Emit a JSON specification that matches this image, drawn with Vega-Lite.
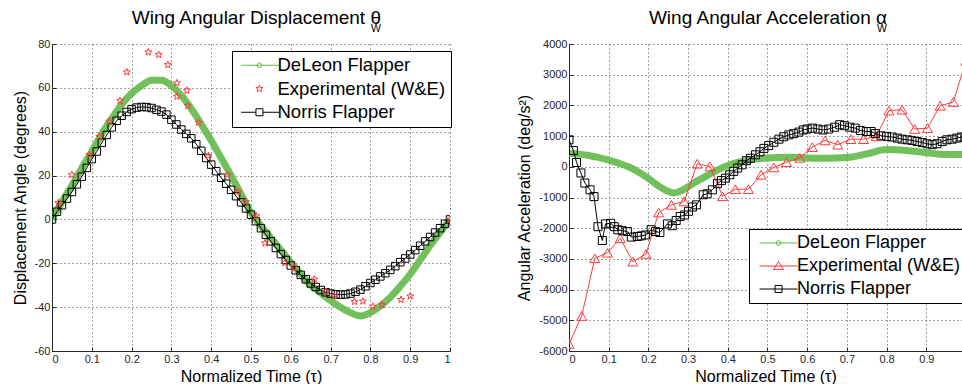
{
  "$schema": "https://vega.github.io/schema/vega-lite/v6.json",
  "background": "white",
  "padding": {"left": 12, "top": 8, "right": 0, "bottom": 0},
  "spacing": 64,
  "config": {
    "font": "Liberation Sans",
    "view": {"stroke": null},
    "locale": {"number": {"decimal": ".", "thousands": ",", "grouping": [3], "currency": ["$", ""], "minus": "-"}},
    "axis": {
      "domainColor": "#262626", "labelColor": "#262626", "labelFontSize": 11, "labelFont": "Liberation Sans",
      "titleFontSize": 16, "titleFontWeight": "normal", "titleColor": "#000", "titleFont": "Liberation Sans",
      "gridColor": "#333", "gridDash": [1, 3], "gridOpacity": 0.9,
      "tickColor": "#262626", "tickSize": -4, "labelPadding": 6
    },
    "title": {"fontWeight": "normal", "fontSize": 19, "font": "Liberation Sans", "color": "#000",
      "subtitleFontSize": 10.5, "subtitleFont": "Liberation Sans", "subtitleColor": "#000", "subtitlePadding": -4, "offset": 4}
  },
  "resolve": {"scale": {"color": "independent"}, "legend": {"color": "independent"}},
  "datasets": {
    "disp": [
      {"series": "DeLeon Flapper", "t": 0, "v": 0},
      {"series": "DeLeon Flapper", "t": 0.025, "v": 8},
      {"series": "DeLeon Flapper", "t": 0.05, "v": 15.5},
      {"series": "DeLeon Flapper", "t": 0.075, "v": 23.5},
      {"series": "DeLeon Flapper", "t": 0.1, "v": 31},
      {"series": "DeLeon Flapper", "t": 0.125, "v": 39},
      {"series": "DeLeon Flapper", "t": 0.15, "v": 46},
      {"series": "DeLeon Flapper", "t": 0.175, "v": 52.5},
      {"series": "DeLeon Flapper", "t": 0.2, "v": 57.5},
      {"series": "DeLeon Flapper", "t": 0.225, "v": 61},
      {"series": "DeLeon Flapper", "t": 0.25, "v": 63.5},
      {"series": "DeLeon Flapper", "t": 0.275, "v": 63.5},
      {"series": "DeLeon Flapper", "t": 0.3, "v": 61},
      {"series": "DeLeon Flapper", "t": 0.325, "v": 56.5},
      {"series": "DeLeon Flapper", "t": 0.35, "v": 50.5},
      {"series": "DeLeon Flapper", "t": 0.375, "v": 43.5},
      {"series": "DeLeon Flapper", "t": 0.4, "v": 36},
      {"series": "DeLeon Flapper", "t": 0.425, "v": 28},
      {"series": "DeLeon Flapper", "t": 0.45, "v": 20},
      {"series": "DeLeon Flapper", "t": 0.475, "v": 11.5},
      {"series": "DeLeon Flapper", "t": 0.5, "v": 3},
      {"series": "DeLeon Flapper", "t": 0.525, "v": -3},
      {"series": "DeLeon Flapper", "t": 0.55, "v": -8.5},
      {"series": "DeLeon Flapper", "t": 0.575, "v": -14},
      {"series": "DeLeon Flapper", "t": 0.6, "v": -19.5},
      {"series": "DeLeon Flapper", "t": 0.625, "v": -25},
      {"series": "DeLeon Flapper", "t": 0.65, "v": -30},
      {"series": "DeLeon Flapper", "t": 0.675, "v": -33.5},
      {"series": "DeLeon Flapper", "t": 0.7, "v": -37},
      {"series": "DeLeon Flapper", "t": 0.725, "v": -40},
      {"series": "DeLeon Flapper", "t": 0.75, "v": -42.5},
      {"series": "DeLeon Flapper", "t": 0.775, "v": -44},
      {"series": "DeLeon Flapper", "t": 0.8, "v": -42.5},
      {"series": "DeLeon Flapper", "t": 0.825, "v": -39.5},
      {"series": "DeLeon Flapper", "t": 0.85, "v": -35.5},
      {"series": "DeLeon Flapper", "t": 0.875, "v": -30.5},
      {"series": "DeLeon Flapper", "t": 0.9, "v": -25},
      {"series": "DeLeon Flapper", "t": 0.925, "v": -18.5},
      {"series": "DeLeon Flapper", "t": 0.95, "v": -12},
      {"series": "DeLeon Flapper", "t": 0.975, "v": -6},
      {"series": "DeLeon Flapper", "t": 1, "v": 0},

      {"series": "Norris Flapper", "t": 0, "v": 0},
      {"series": "Norris Flapper", "t": 0.0125, "v": 3.5},
      {"series": "Norris Flapper", "t": 0.025, "v": 6.5},
      {"series": "Norris Flapper", "t": 0.0375, "v": 9.5},
      {"series": "Norris Flapper", "t": 0.05, "v": 12.5},
      {"series": "Norris Flapper", "t": 0.0625, "v": 16},
      {"series": "Norris Flapper", "t": 0.075, "v": 19.5},
      {"series": "Norris Flapper", "t": 0.0875, "v": 23.5},
      {"series": "Norris Flapper", "t": 0.1, "v": 27.5},
      {"series": "Norris Flapper", "t": 0.1125, "v": 31},
      {"series": "Norris Flapper", "t": 0.125, "v": 35},
      {"series": "Norris Flapper", "t": 0.1375, "v": 38.5},
      {"series": "Norris Flapper", "t": 0.15, "v": 42},
      {"series": "Norris Flapper", "t": 0.1625, "v": 45},
      {"series": "Norris Flapper", "t": 0.175, "v": 47.3},
      {"series": "Norris Flapper", "t": 0.1875, "v": 49},
      {"series": "Norris Flapper", "t": 0.2, "v": 50.3},
      {"series": "Norris Flapper", "t": 0.2125, "v": 51},
      {"series": "Norris Flapper", "t": 0.225, "v": 51.3},
      {"series": "Norris Flapper", "t": 0.2375, "v": 51.2},
      {"series": "Norris Flapper", "t": 0.25, "v": 50.8},
      {"series": "Norris Flapper", "t": 0.2625, "v": 50},
      {"series": "Norris Flapper", "t": 0.275, "v": 49.2},
      {"series": "Norris Flapper", "t": 0.2875, "v": 47.8},
      {"series": "Norris Flapper", "t": 0.3, "v": 45.5},
      {"series": "Norris Flapper", "t": 0.3125, "v": 43.3},
      {"series": "Norris Flapper", "t": 0.325, "v": 41},
      {"series": "Norris Flapper", "t": 0.3375, "v": 39},
      {"series": "Norris Flapper", "t": 0.35, "v": 37},
      {"series": "Norris Flapper", "t": 0.3625, "v": 34.3},
      {"series": "Norris Flapper", "t": 0.375, "v": 31.3},
      {"series": "Norris Flapper", "t": 0.3875, "v": 28},
      {"series": "Norris Flapper", "t": 0.4, "v": 25},
      {"series": "Norris Flapper", "t": 0.4125, "v": 22},
      {"series": "Norris Flapper", "t": 0.425, "v": 19},
      {"series": "Norris Flapper", "t": 0.4375, "v": 16.3},
      {"series": "Norris Flapper", "t": 0.45, "v": 13.5},
      {"series": "Norris Flapper", "t": 0.4625, "v": 10.6},
      {"series": "Norris Flapper", "t": 0.475, "v": 7.8},
      {"series": "Norris Flapper", "t": 0.4875, "v": 5},
      {"series": "Norris Flapper", "t": 0.5, "v": 2.2},
      {"series": "Norris Flapper", "t": 0.5125, "v": -0.8},
      {"series": "Norris Flapper", "t": 0.525, "v": -4},
      {"series": "Norris Flapper", "t": 0.5375, "v": -7},
      {"series": "Norris Flapper", "t": 0.55, "v": -10},
      {"series": "Norris Flapper", "t": 0.5625, "v": -13},
      {"series": "Norris Flapper", "t": 0.575, "v": -15.8},
      {"series": "Norris Flapper", "t": 0.5875, "v": -18.5},
      {"series": "Norris Flapper", "t": 0.6, "v": -21},
      {"series": "Norris Flapper", "t": 0.6125, "v": -23.2},
      {"series": "Norris Flapper", "t": 0.625, "v": -25.3},
      {"series": "Norris Flapper", "t": 0.6375, "v": -27.3},
      {"series": "Norris Flapper", "t": 0.65, "v": -29.2},
      {"series": "Norris Flapper", "t": 0.6625, "v": -30.8},
      {"series": "Norris Flapper", "t": 0.675, "v": -32.2},
      {"series": "Norris Flapper", "t": 0.6875, "v": -33.2},
      {"series": "Norris Flapper", "t": 0.7, "v": -33.8},
      {"series": "Norris Flapper", "t": 0.7125, "v": -34.2},
      {"series": "Norris Flapper", "t": 0.725, "v": -34.3},
      {"series": "Norris Flapper", "t": 0.7375, "v": -34.2},
      {"series": "Norris Flapper", "t": 0.75, "v": -33.8},
      {"series": "Norris Flapper", "t": 0.7625, "v": -33},
      {"series": "Norris Flapper", "t": 0.775, "v": -32},
      {"series": "Norris Flapper", "t": 0.7875, "v": -30.5},
      {"series": "Norris Flapper", "t": 0.8, "v": -29},
      {"series": "Norris Flapper", "t": 0.8125, "v": -27.5},
      {"series": "Norris Flapper", "t": 0.825, "v": -26},
      {"series": "Norris Flapper", "t": 0.8375, "v": -24.5},
      {"series": "Norris Flapper", "t": 0.85, "v": -23},
      {"series": "Norris Flapper", "t": 0.8625, "v": -21.3},
      {"series": "Norris Flapper", "t": 0.875, "v": -19.5},
      {"series": "Norris Flapper", "t": 0.8875, "v": -17.8},
      {"series": "Norris Flapper", "t": 0.9, "v": -16},
      {"series": "Norris Flapper", "t": 0.9125, "v": -14},
      {"series": "Norris Flapper", "t": 0.925, "v": -12},
      {"series": "Norris Flapper", "t": 0.9375, "v": -10},
      {"series": "Norris Flapper", "t": 0.95, "v": -8},
      {"series": "Norris Flapper", "t": 0.9625, "v": -6},
      {"series": "Norris Flapper", "t": 0.975, "v": -4},
      {"series": "Norris Flapper", "t": 0.9875, "v": -2},
      {"series": "Norris Flapper", "t": 1, "v": 0},

      {"series": "Experimental (W&E)", "t": 0.016, "v": 7.5},
      {"series": "Experimental (W&E)", "t": 0.05, "v": 20.3},
      {"series": "Experimental (W&E)", "t": 0.094, "v": 29.5},
      {"series": "Experimental (W&E)", "t": 0.119, "v": 37.8},
      {"series": "Experimental (W&E)", "t": 0.144, "v": 44.7},
      {"series": "Experimental (W&E)", "t": 0.171, "v": 54.1},
      {"series": "Experimental (W&E)", "t": 0.188, "v": 67.2},
      {"series": "Experimental (W&E)", "t": 0.242, "v": 76.3},
      {"series": "Experimental (W&E)", "t": 0.268, "v": 75.1},
      {"series": "Experimental (W&E)", "t": 0.291, "v": 70.5},
      {"series": "Experimental (W&E)", "t": 0.314, "v": 62.2},
      {"series": "Experimental (W&E)", "t": 0.339, "v": 58.8},
      {"series": "Experimental (W&E)", "t": 0.314, "v": 56.1},
      {"series": "Experimental (W&E)", "t": 0.341, "v": 51.8},
      {"series": "Experimental (W&E)", "t": 0.368, "v": 44.2},
      {"series": "Experimental (W&E)", "t": 0.393, "v": 29},
      {"series": "Experimental (W&E)", "t": 0.441, "v": 20.3},
      {"series": "Experimental (W&E)", "t": 0.467, "v": 12.7},
      {"series": "Experimental (W&E)", "t": 0.487, "v": 8.1},
      {"series": "Experimental (W&E)", "t": 0.513, "v": 1.6},
      {"series": "Experimental (W&E)", "t": 0.535, "v": -10.8},
      {"series": "Experimental (W&E)", "t": 0.585, "v": -19.8},
      {"series": "Experimental (W&E)", "t": 0.608, "v": -21.8},
      {"series": "Experimental (W&E)", "t": 0.659, "v": -27.3},
      {"series": "Experimental (W&E)", "t": 0.688, "v": -33},
      {"series": "Experimental (W&E)", "t": 0.709, "v": -34.9},
      {"series": "Experimental (W&E)", "t": 0.76, "v": -37.5},
      {"series": "Experimental (W&E)", "t": 0.781, "v": -37.3},
      {"series": "Experimental (W&E)", "t": 0.806, "v": -39.7},
      {"series": "Experimental (W&E)", "t": 0.829, "v": -39},
      {"series": "Experimental (W&E)", "t": 0.877, "v": -36.6},
      {"series": "Experimental (W&E)", "t": 0.9, "v": -35},
      {"series": "Experimental (W&E)", "t": 1, "v": 0}
    ],
    "acc": [
      {"series": "DeLeon Flapper", "t": 0, "v": 440},
      {"series": "DeLeon Flapper", "t": 0.025, "v": 410},
      {"series": "DeLeon Flapper", "t": 0.05, "v": 370},
      {"series": "DeLeon Flapper", "t": 0.075, "v": 300},
      {"series": "DeLeon Flapper", "t": 0.1, "v": 220},
      {"series": "DeLeon Flapper", "t": 0.125, "v": 120},
      {"series": "DeLeon Flapper", "t": 0.15, "v": 0},
      {"series": "DeLeon Flapper", "t": 0.175, "v": -170},
      {"series": "DeLeon Flapper", "t": 0.2, "v": -380},
      {"series": "DeLeon Flapper", "t": 0.225, "v": -620},
      {"series": "DeLeon Flapper", "t": 0.25, "v": -800},
      {"series": "DeLeon Flapper", "t": 0.265, "v": -850},
      {"series": "DeLeon Flapper", "t": 0.28, "v": -800},
      {"series": "DeLeon Flapper", "t": 0.3, "v": -650},
      {"series": "DeLeon Flapper", "t": 0.325, "v": -450},
      {"series": "DeLeon Flapper", "t": 0.35, "v": -270},
      {"series": "DeLeon Flapper", "t": 0.375, "v": -100},
      {"series": "DeLeon Flapper", "t": 0.4, "v": 40},
      {"series": "DeLeon Flapper", "t": 0.425, "v": 140},
      {"series": "DeLeon Flapper", "t": 0.45, "v": 210},
      {"series": "DeLeon Flapper", "t": 0.5, "v": 290},
      {"series": "DeLeon Flapper", "t": 0.55, "v": 310},
      {"series": "DeLeon Flapper", "t": 0.6, "v": 290},
      {"series": "DeLeon Flapper", "t": 0.65, "v": 280},
      {"series": "DeLeon Flapper", "t": 0.7, "v": 300},
      {"series": "DeLeon Flapper", "t": 0.75, "v": 420},
      {"series": "DeLeon Flapper", "t": 0.8, "v": 560},
      {"series": "DeLeon Flapper", "t": 0.85, "v": 530},
      {"series": "DeLeon Flapper", "t": 0.9, "v": 460},
      {"series": "DeLeon Flapper", "t": 0.95, "v": 400},
      {"series": "DeLeon Flapper", "t": 1, "v": 400},

      {"series": "Experimental (W&E)", "t": 0, "v": -5770},
      {"series": "Experimental (W&E)", "t": 0.032, "v": -4860},
      {"series": "Experimental (W&E)", "t": 0.065, "v": -2980},
      {"series": "Experimental (W&E)", "t": 0.097, "v": -2800},
      {"series": "Experimental (W&E)", "t": 0.129, "v": -2330},
      {"series": "Experimental (W&E)", "t": 0.161, "v": -3090},
      {"series": "Experimental (W&E)", "t": 0.194, "v": -2840},
      {"series": "Experimental (W&E)", "t": 0.226, "v": -1490},
      {"series": "Experimental (W&E)", "t": 0.258, "v": -1240},
      {"series": "Experimental (W&E)", "t": 0.29, "v": -1130},
      {"series": "Experimental (W&E)", "t": 0.323, "v": 100},
      {"series": "Experimental (W&E)", "t": 0.355, "v": 10},
      {"series": "Experimental (W&E)", "t": 0.387, "v": -960},
      {"series": "Experimental (W&E)", "t": 0.419, "v": -730},
      {"series": "Experimental (W&E)", "t": 0.452, "v": -730},
      {"series": "Experimental (W&E)", "t": 0.484, "v": -260},
      {"series": "Experimental (W&E)", "t": 0.516, "v": -20},
      {"series": "Experimental (W&E)", "t": 0.548, "v": 150},
      {"series": "Experimental (W&E)", "t": 0.581, "v": 290},
      {"series": "Experimental (W&E)", "t": 0.613, "v": 640},
      {"series": "Experimental (W&E)", "t": 0.645, "v": 860},
      {"series": "Experimental (W&E)", "t": 0.677, "v": 720},
      {"series": "Experimental (W&E)", "t": 0.71, "v": 900},
      {"series": "Experimental (W&E)", "t": 0.742, "v": 900},
      {"series": "Experimental (W&E)", "t": 0.774, "v": 990},
      {"series": "Experimental (W&E)", "t": 0.806, "v": 1830},
      {"series": "Experimental (W&E)", "t": 0.839, "v": 1860},
      {"series": "Experimental (W&E)", "t": 0.871, "v": 1230},
      {"series": "Experimental (W&E)", "t": 0.903, "v": 1260},
      {"series": "Experimental (W&E)", "t": 0.935, "v": 1990},
      {"series": "Experimental (W&E)", "t": 0.968, "v": 2110},
      {"series": "Experimental (W&E)", "t": 1, "v": 3450},

      {"series": "Norris Flapper", "t": 0, "v": 880},
      {"series": "Norris Flapper", "t": 0.011, "v": 530},
      {"series": "Norris Flapper", "t": 0.019, "v": 140},
      {"series": "Norris Flapper", "t": 0.03, "v": -200},
      {"series": "Norris Flapper", "t": 0.04, "v": -530},
      {"series": "Norris Flapper", "t": 0.053, "v": -750},
      {"series": "Norris Flapper", "t": 0.063, "v": -970},
      {"series": "Norris Flapper", "t": 0.073, "v": -1950},
      {"series": "Norris Flapper", "t": 0.084, "v": -2400},
      {"series": "Norris Flapper", "t": 0.092, "v": -1860},
      {"series": "Norris Flapper", "t": 0.105, "v": -1840},
      {"series": "Norris Flapper", "t": 0.114, "v": -1950},
      {"series": "Norris Flapper", "t": 0.123, "v": -2050},
      {"series": "Norris Flapper", "t": 0.134, "v": -2080},
      {"series": "Norris Flapper", "t": 0.147, "v": -2110},
      {"series": "Norris Flapper", "t": 0.157, "v": -2290},
      {"series": "Norris Flapper", "t": 0.172, "v": -2270},
      {"series": "Norris Flapper", "t": 0.182, "v": -2250},
      {"series": "Norris Flapper", "t": 0.193, "v": -2220},
      {"series": "Norris Flapper", "t": 0.207, "v": -2050},
      {"series": "Norris Flapper", "t": 0.218, "v": -2110},
      {"series": "Norris Flapper", "t": 0.229, "v": -2140},
      {"series": "Norris Flapper", "t": 0.248, "v": -1860},
      {"series": "Norris Flapper", "t": 0.26, "v": -1920},
      {"series": "Norris Flapper", "t": 0.27, "v": -1750},
      {"series": "Norris Flapper", "t": 0.28, "v": -1620},
      {"series": "Norris Flapper", "t": 0.291, "v": -1570},
      {"series": "Norris Flapper", "t": 0.301, "v": -1450},
      {"series": "Norris Flapper", "t": 0.311, "v": -1310},
      {"series": "Norris Flapper", "t": 0.321, "v": -1240},
      {"series": "Norris Flapper", "t": 0.338, "v": -910},
      {"series": "Norris Flapper", "t": 0.348, "v": -880},
      {"series": "Norris Flapper", "t": 0.361, "v": -750},
      {"series": "Norris Flapper", "t": 0.374, "v": -550},
      {"series": "Norris Flapper", "t": 0.384, "v": -450},
      {"series": "Norris Flapper", "t": 0.394, "v": -370},
      {"series": "Norris Flapper", "t": 0.405, "v": -260},
      {"series": "Norris Flapper", "t": 0.415, "v": -150},
      {"series": "Norris Flapper", "t": 0.425, "v": -40},
      {"series": "Norris Flapper", "t": 0.436, "v": 65},
      {"series": "Norris Flapper", "t": 0.447, "v": 200},
      {"series": "Norris Flapper", "t": 0.457, "v": 280},
      {"series": "Norris Flapper", "t": 0.47, "v": 390},
      {"series": "Norris Flapper", "t": 0.481, "v": 490},
      {"series": "Norris Flapper", "t": 0.491, "v": 600},
      {"series": "Norris Flapper", "t": 0.503, "v": 690},
      {"series": "Norris Flapper", "t": 0.516, "v": 800},
      {"series": "Norris Flapper", "t": 0.529, "v": 900},
      {"series": "Norris Flapper", "t": 0.541, "v": 980},
      {"series": "Norris Flapper", "t": 0.554, "v": 1040},
      {"series": "Norris Flapper", "t": 0.566, "v": 1080},
      {"series": "Norris Flapper", "t": 0.579, "v": 1130},
      {"series": "Norris Flapper", "t": 0.59, "v": 1200},
      {"series": "Norris Flapper", "t": 0.6, "v": 1230},
      {"series": "Norris Flapper", "t": 0.613, "v": 1260},
      {"series": "Norris Flapper", "t": 0.627, "v": 1230},
      {"series": "Norris Flapper", "t": 0.64, "v": 1200},
      {"series": "Norris Flapper", "t": 0.654, "v": 1230},
      {"series": "Norris Flapper", "t": 0.669, "v": 1290},
      {"series": "Norris Flapper", "t": 0.682, "v": 1370},
      {"series": "Norris Flapper", "t": 0.694, "v": 1340},
      {"series": "Norris Flapper", "t": 0.707, "v": 1290},
      {"series": "Norris Flapper", "t": 0.721, "v": 1260},
      {"series": "Norris Flapper", "t": 0.734, "v": 1185},
      {"series": "Norris Flapper", "t": 0.749, "v": 1150},
      {"series": "Norris Flapper", "t": 0.761, "v": 1150},
      {"series": "Norris Flapper", "t": 0.772, "v": 1080},
      {"series": "Norris Flapper", "t": 0.786, "v": 1010},
      {"series": "Norris Flapper", "t": 0.8, "v": 990},
      {"series": "Norris Flapper", "t": 0.814, "v": 970},
      {"series": "Norris Flapper", "t": 0.827, "v": 935},
      {"series": "Norris Flapper", "t": 0.839, "v": 900},
      {"series": "Norris Flapper", "t": 0.852, "v": 880},
      {"series": "Norris Flapper", "t": 0.864, "v": 860},
      {"series": "Norris Flapper", "t": 0.877, "v": 825},
      {"series": "Norris Flapper", "t": 0.89, "v": 790},
      {"series": "Norris Flapper", "t": 0.902, "v": 750},
      {"series": "Norris Flapper", "t": 0.915, "v": 720},
      {"series": "Norris Flapper", "t": 0.927, "v": 750},
      {"series": "Norris Flapper", "t": 0.94, "v": 825},
      {"series": "Norris Flapper", "t": 0.952, "v": 880},
      {"series": "Norris Flapper", "t": 0.965, "v": 900},
      {"series": "Norris Flapper", "t": 0.977, "v": 935},
      {"series": "Norris Flapper", "t": 0.988, "v": 970},
      {"series": "Norris Flapper", "t": 1, "v": 990}
    ]
  },
  "hconcat": [
    {
      "width": 398,
      "height": 307,
      "title": {"text": "Wing Angular Displacement θ\u00a0\u00a0\u00a0", "subtitle": "W", "anchor": "end", "frame": "group", "dx": -69},
      "data": {"name": "disp"},
      "encoding": {
        "x": {"field": "t", "type": "quantitative", "scale": {"domain": [0, 1], "nice": false},
          "axis": {"values": [0, 0.1, 0.2, 0.3, 0.4, 0.5, 0.6, 0.7, 0.8, 0.9, 1], "format": "~g", "title": "Normalized Time (τ)", "grid": true}},
        "y": {"field": "v", "type": "quantitative", "scale": {"domain": [-60, 80], "nice": false},
          "axis": {"values": [-60, -40, -20, 0, 20, 40, 60, 80], "format": "d", "title": "Displacement Angle (degrees)", "grid": true, "titlePadding": 6}},
        "color": {"field": "series", "type": "nominal",
          "scale": {"domain": ["DeLeon Flapper", "Experimental (W&E)", "Norris Flapper"], "range": ["#62b94a", "#ff3b3b", "#000000"]},
          "legend": {
            "title": null, "orient": "none", "legendX": 180, "legendY": 7,
            "labelFontSize": 18.5, "labelColor": "#000", "labelFont": "Liberation Sans", "labelLimit": 300,
            "symbolSize": 100, "labelOffset": 22, "rowPadding": 4.5, "padding": 5,
            "strokeColor": "#000", "fillColor": "#fff",
            "encode": {"symbols": {"update": {
              "shape": {"signal": "datum.value === 'DeLeon Flapper' ? 'M-1.02,0H6.64M3.14,0L2.99,0.35L2.64,0.5L2.29,0.35L2.14,0L2.29,-0.35L2.64,-0.5L2.99,-0.35Z' : datum.value === 'Norris Flapper' ? 'M-1.02,0H1.94M3.34,0H6.64M1.94,-0.7H3.34V0.7H1.94Z' : 'M2.64,-0.75L2.816,-0.243L3.353,-0.232L2.925,0.093L3.081,0.607L2.64,0.3L2.199,0.607L2.355,0.093L1.927,-0.232L2.464,-0.243Z'"},
              "stroke": {"signal": "datum.value === 'DeLeon Flapper' ? '#62b94a' : datum.value === 'Norris Flapper' ? '#000000' : '#ff3b3b'"},
              "fill": {"value": "transparent"},
              "strokeWidth": {"value": 1},
              "opacity": {"value": 1},
              "size": {"value": 100}
            }}}
          }}
      },
      "layer": [
        {"transform": [{"filter": "datum.series === 'DeLeon Flapper'"}],
         "mark": {"type": "line", "strokeWidth": 7, "interpolate": "monotone", "clip": true, "opacity": 0.9}},
        {"transform": [{"filter": "datum.series === 'Norris Flapper'"}],
         "mark": {"type": "line", "strokeWidth": 1, "clip": true}},
        {"transform": [{"filter": "datum.series === 'Norris Flapper'"}],
         "mark": {"type": "point", "shape": "square", "size": 56, "filled": false, "strokeWidth": 1, "opacity": 1, "clip": true}},
        {"transform": [{"filter": "datum.series === 'Experimental (W&E)'"}],
         "mark": {"type": "point", "shape": "M0,-1L0.235,-0.324L0.951,-0.309L0.38,0.124L0.588,0.809L0,0.4L-0.588,0.809L-0.38,0.124L-0.951,-0.309L-0.235,-0.324Z", "size": 55, "filled": false, "strokeWidth": 1, "opacity": 1, "clip": true}}
      ]
    },
    {
      "width": 393,
      "height": 307,
      "title": {"text": "Wing Angular Acceleration α\u00a0\u00a0\u00a0", "subtitle": "W", "anchor": "end", "frame": "group", "dx": -75},
      "data": {"name": "acc"},
      "encoding": {
        "x": {"field": "t", "type": "quantitative", "scale": {"domain": [0, 0.99], "nice": false},
          "axis": {"values": [0, 0.1, 0.2, 0.3, 0.4, 0.5, 0.6, 0.7, 0.8, 0.9], "format": "~g", "title": "Normalized Time (τ)", "grid": true}},
        "y": {"field": "v", "type": "quantitative", "scale": {"domain": [-6000, 4000], "nice": false},
          "axis": {"values": [-6000, -5000, -4000, -3000, -2000, -1000, 0, 1000, 2000, 3000, 4000], "format": "d", "title": "Angular Acceleration (deg/s²)", "grid": true, "titlePadding": 6}},
        "color": {"field": "series", "type": "nominal",
          "scale": {"domain": ["DeLeon Flapper", "Experimental (W&E)", "Norris Flapper"], "range": ["#62b94a", "#ff3b3b", "#000000"]},
          "legend": {
            "title": null, "orient": "none", "legendX": 180, "legendY": 185,
            "labelFontSize": 18, "labelColor": "#000", "labelFont": "Liberation Sans", "labelLimit": 300,
            "symbolSize": 100, "labelOffset": 25, "rowPadding": 5, "padding": 5,
            "strokeColor": "#000", "fillColor": "#fff",
            "encode": {"symbols": {"update": {
              "shape": {"signal": "datum.value === 'DeLeon Flapper' ? 'M-0.7,0H6.9M3.6,0L3.45,0.35L3.1,0.5L2.75,0.35L2.6,0L2.75,-0.35L3.1,-0.5L3.45,-0.35Z' : datum.value === 'Norris Flapper' ? 'M-0.7,0H6.9M2.4,-0.7H3.8V0.7H2.4Z' : 'M-0.7,0H6.9M3.1,-0.9L4.1,0.7L2.1,0.7Z'"},
              "stroke": {"signal": "datum.value === 'DeLeon Flapper' ? '#62b94a' : datum.value === 'Norris Flapper' ? '#000000' : '#ff3b3b'"},
              "fill": {"value": "transparent"},
              "strokeWidth": {"value": 1},
              "opacity": {"value": 1},
              "size": {"value": 100}
            }}}
          }}
      },
      "layer": [
        {"transform": [{"filter": "datum.series === 'DeLeon Flapper'"}],
         "mark": {"type": "line", "strokeWidth": 7, "interpolate": "monotone", "clip": true, "opacity": 0.9}},
        {"transform": [{"filter": "datum.series === 'Experimental (W&E)'"}],
         "mark": {"type": "line", "strokeWidth": 1, "clip": true}},
        {"transform": [{"filter": "datum.series === 'Experimental (W&E)'"}],
         "mark": {"type": "point", "shape": "triangle-up", "size": 100, "filled": false, "strokeWidth": 1, "opacity": 1, "clip": true}},
        {"transform": [{"filter": "datum.series === 'Norris Flapper'"}],
         "mark": {"type": "line", "strokeWidth": 1, "clip": true}},
        {"transform": [{"filter": "datum.series === 'Norris Flapper'"}],
         "mark": {"type": "point", "shape": "square", "size": 64, "filled": false, "strokeWidth": 1, "opacity": 1, "clip": true}}
      ]
    }
  ]
}
